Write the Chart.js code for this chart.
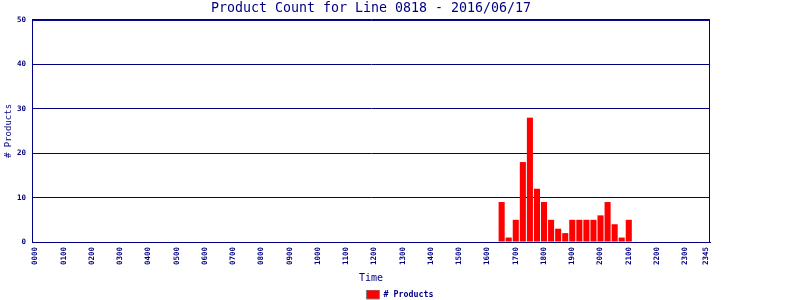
<!DOCTYPE html>
<html>
<head>
<meta charset="utf-8">
<script src="https://cdn.jsdelivr.net/npm/chart.js@4/dist/chart.umd.min.js"></script>
<style>
  html, body { margin: 0; padding: 0; background: #fff; }
  #wrap { width: 800px; height: 300px; }
</style>
</head>
<body>
<div id="wrap"><canvas id="countChart"></canvas></div>
<script>
// 15 minute slots, 0000 .. 2345
const slots = [];
for (let h = 0; h < 24; h++) {
    ['00', '15', '30', '45'].forEach(m => slots.push(String(h).padStart(2, '0') + m));
}

// products per slot, one row per hour (:00 :15 :30 :45)
const productCounts = [
    0, 0, 0, 0,   // 00
    0, 0, 0, 0,   // 01
    0, 0, 0, 0,   // 02
    0, 0, 0, 0,   // 03
    0, 0, 0, 0,   // 04
    0, 0, 0, 0,   // 05
    0, 0, 0, 0,   // 06
    0, 0, 0, 0,   // 07
    0, 0, 0, 0,   // 08
    0, 0, 0, 0,   // 09
    0, 0, 0, 0,   // 10
    0, 0, 0, 0,   // 11
    0, 0, 0, 0,   // 12
    0, 0, 0, 0,   // 13
    0, 0, 0, 0,   // 14
    0, 0, 0, 0,   // 15
    0, 0, 9, 1,   // 16
    5, 18, 28, 12, // 17
    9, 5, 3, 2,   // 18
    5, 5, 5, 5,   // 19
    6, 9, 4, 1,   // 20
    5, 0, 0, 0,   // 21
    0, 0, 0, 0,   // 22
    0, 0, 0, 0    // 23
];

const yTicks = [0, 10, 20, 30, 40, 50];

const navy = '#000080';
const mono = 'DejaVu Sans Mono';

// frame round the plot area (top + right edges)
const plotFrame = {
    id: 'plotFrame',
    afterDraw(chart) {
        const { ctx, chartArea: a } = chart;
        ctx.save();
        ctx.strokeStyle = navy;
        ctx.lineWidth = 1;
        ctx.strokeRect(a.left + 0.5, a.top + 0.5, a.right - a.left - 1, a.bottom - a.top);
        ctx.restore();
    }
};

new Chart(document.getElementById('countChart'), {
    type: 'bar',
    data: {
        labels: slots,
        datasets: [{
            label: '# Products',
            data: productCounts,
            backgroundColor: '#ff0000',
            borderWidth: 0,
            barPercentage: 0.86,
            categoryPercentage: 1.0
        }]
    },
    options: {
        responsive: true,
        maintainAspectRatio: false,
        animation: false,
        layout: { padding: 0 },
        plugins: {
            title: {
                display: true,
                fullSize: false,
                text: 'Product Count for Line 0818 - 2016/06/17',
                color: navy,
                font: { family: mono, size: 13.3, weight: 'normal' },
                padding: { top: 1, bottom: 3 }
            },
            legend: {
                position: 'bottom',
                maxHeight: 10,
                labels: {
                    color: navy,
                    font: { family: mono, size: 8.3, weight: 'bold' },
                    boxWidth: 13,
                    boxHeight: 9,
                    padding: 0,
                    generateLabels: chart => [{
                        text: '# Products',
                        fillStyle: '#ff0000',
                        strokeStyle: '#808080',
                        lineWidth: 1,
                        fontColor: navy,
                        datasetIndex: 0
                    }]
                }
            },
            tooltip: { enabled: false }
        },
        scales: {
            x: {
                afterFit: axis => { axis.height = 48; },
                grid: { display: false, drawTicks: false, tickLength: 0 },
                border: { display: true, color: navy, width: 1 },
                ticks: {
                    autoSkip: false,
                    minRotation: 90,
                    maxRotation: 90,
                    padding: 5,
                    color: navy,
                    font: { family: mono, size: 7.5, weight: 'bold' },
                    callback: function(value, index) {
                        const s = slots[index];
                        return (s.endsWith('00') || index === slots.length - 1) ? s : '';
                    }
                },
                title: {
                    display: true,
                    text: 'Time',
                    color: navy,
                    font: { family: mono, size: 10 },
                    padding: { top: 4, bottom: 6 }
                }
            },
            y: {
                min: 0,
                max: 50,
                afterBuildTicks: axis => { axis.ticks = yTicks.map(v => ({ value: v })); },
                afterFit: axis => { axis.width = 32; },
                grid: { color: navy, lineWidth: 1, drawTicks: false },
                border: { display: true, color: navy, width: 1 },
                ticks: {
                    padding: 6,
                    color: navy,
                    font: { family: mono, size: 7.5, weight: 'bold' }
                },
                title: {
                    display: true,
                    text: '# Products',
                    color: navy,
                    font: { family: mono, size: 9 },
                    padding: { top: 3, bottom: 0 }
                }
            },
            // empty right margin, keeps the plot at the reference width
            yRight: {
                position: 'right',
                display: true,
                afterFit: axis => { axis.width = 90; },
                grid: { display: false },
                border: { display: false },
                ticks: { display: false }
            }
        }
    },
    plugins: [plotFrame]
});
</script>
</body>
</html>
